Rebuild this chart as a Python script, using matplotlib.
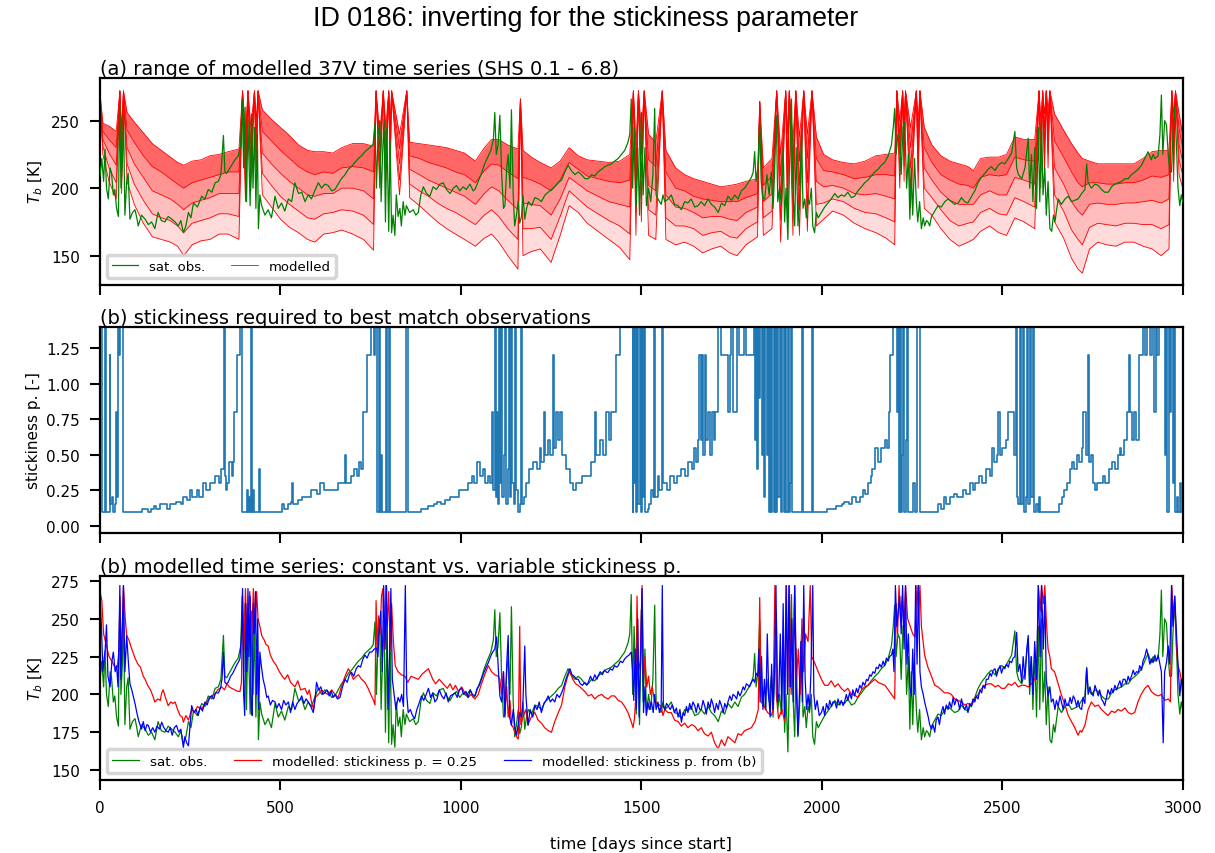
"""
Stickiness inversion figure for ID 0186: modelled 37V range, inverted
stickiness, and constant vs variable stickiness runs.
Values read off the reference figure by eye.
"""

import numpy as np
import matplotlib
matplotlib.use("Agg")
import matplotlib.pyplot as plt

# ─── Panel (a): modelled family (grid shared by all curves) ──────────────────
fam_days = [0, 8, 25, 45, 55, 60, 65, 75, 95, 120,
            145, 170, 195, 215, 232, 255, 280, 305, 330, 355,
            385, 395, 403, 410, 418, 428, 433, 438, 450, 475,
            500, 525, 550, 575, 595, 620, 645, 670, 700, 730,
            758, 765, 775, 785, 792, 800, 804, 808, 830, 850,
            858, 885, 910, 935, 960, 985, 1010, 1040, 1065, 1085,
            1105, 1130, 1158, 1165, 1172, 1195, 1220, 1250, 1275, 1300,
            1325, 1350, 1380, 1410, 1440, 1468, 1478, 1485, 1492, 1500,
            1508, 1520, 1540, 1558, 1568, 1595, 1620, 1645, 1670, 1695,
            1720, 1745, 1765, 1790, 1822, 1828, 1838, 1862, 1875, 1886,
            1900, 1905, 1910, 1920, 1928, 1938, 1950, 1960, 1973, 1985,
            2005, 2030, 2060, 2090, 2120, 2150, 2178, 2202, 2208, 2216,
            2224, 2228, 2232, 2246, 2262, 2267, 2272, 2284, 2305, 2330,
            2355, 2380, 2405, 2420, 2440, 2465, 2490, 2512, 2535, 2560,
            2590, 2602, 2607, 2612, 2617, 2622, 2627, 2632, 2645, 2670,
            2692, 2710, 2722, 2742, 2765, 2790, 2815, 2840, 2865, 2890,
            2915, 2940, 2962, 2970, 2975, 2980, 2990, 3000]

fam_top = [270, 248, 246, 242, 272, 244, 272, 256, 249, 241,
           233, 228, 223, 219, 217, 220, 221, 224, 225, 227,
           229, 272, 240, 272, 245, 272, 250, 272, 258, 251,
           245, 239, 232, 228, 227, 227, 226, 230, 233, 233,
           231, 272, 240, 272, 245, 272, 248, 272, 240, 272,
           234, 233, 232, 231, 230, 228, 226, 220, 230, 236,
           236, 232, 229, 266, 228, 223, 219, 215, 220, 230,
           224, 221, 220, 219, 220, 225, 272, 232, 272, 242,
           272, 240, 234, 272, 228, 215, 210, 207, 205, 203,
           201, 202, 203, 205, 207, 264, 215, 222, 272, 225,
           272, 240, 272, 235, 272, 238, 272, 240, 272, 238,
           225, 221, 219, 218, 220, 224, 225, 226, 272, 250,
           272, 250, 272, 245, 272, 250, 272, 245, 232, 224,
           220, 218, 216, 213, 222, 223, 223, 225, 238, 236,
           236, 272, 250, 272, 255, 272, 258, 272, 255, 243,
           233, 226, 222, 220, 218, 218, 218, 218, 218, 222,
           227, 228, 228, 272, 255, 272, 255, 240]

fam_q1 = [268, 242, 236, 230, 272, 232, 272, 243, 234, 224,
          216, 212, 207, 203, 200, 204, 206, 208, 210, 212,
          212, 272, 228, 272, 233, 272, 239, 272, 242, 235,
          228, 222, 216, 212, 210, 212, 211, 215, 216, 215,
          212, 272, 230, 272, 235, 272, 237, 272, 229, 272,
          224, 222, 219, 217, 215, 212, 210, 204, 213, 218,
          217, 212, 207, 266, 208, 206, 203, 198, 206, 219,
          214, 209, 207, 205, 204, 206, 272, 215, 272, 225,
          272, 221, 216, 272, 212, 200, 198, 194, 192, 191,
          190, 190, 190, 193, 196, 264, 202, 209, 272, 209,
          272, 222, 272, 218, 272, 220, 272, 222, 272, 222,
          213, 212, 210, 207, 208, 210, 210, 209, 272, 238,
          272, 239, 272, 230, 272, 238, 272, 230, 219, 210,
          206, 203, 202, 200, 208, 210, 209, 210, 223, 221,
          220, 272, 238, 272, 244, 272, 247, 272, 235, 223,
          212, 204, 201, 204, 204, 203, 203, 204, 204, 206,
          209, 208, 210, 272, 242, 272, 244, 230]

fam_mid = [266, 236, 226, 217, 272, 220, 272, 230, 218, 208,
           198, 195, 192, 188, 184, 189, 191, 193, 196, 196,
           196, 272, 215, 272, 222, 272, 228, 272, 226, 218,
           211, 205, 200, 195, 194, 196, 196, 200, 200, 198,
           192, 272, 220, 272, 225, 272, 226, 272, 218, 272,
           214, 210, 206, 203, 200, 197, 194, 188, 196, 201,
           198, 191, 184, 266, 189, 188, 187, 180, 192, 208,
           203, 198, 194, 190, 188, 186, 272, 198, 272, 208,
           272, 202, 198, 272, 195, 186, 185, 182, 178, 179,
           179, 177, 176, 182, 186, 264, 190, 196, 272, 192,
           272, 205, 272, 200, 272, 202, 272, 204, 272, 205,
           201, 202, 200, 196, 195, 196, 194, 192, 272, 225,
           272, 228, 272, 215, 272, 225, 272, 215, 206, 197,
           191, 188, 188, 188, 195, 198, 195, 195, 208, 206,
           203, 272, 225, 272, 232, 272, 236, 272, 215, 203,
           190, 183, 180, 188, 189, 188, 188, 189, 189, 190,
           191, 189, 192, 272, 230, 272, 232, 220]

fam_q3 = [264, 231, 215, 204, 272, 208, 272, 218, 203, 191,
          181, 178, 176, 172, 167, 174, 176, 178, 181, 181,
          179, 272, 202, 272, 210, 272, 216, 272, 211, 202,
          194, 188, 183, 178, 177, 181, 182, 184, 183, 180,
          173, 272, 210, 272, 215, 272, 216, 272, 206, 272,
          203, 198, 194, 189, 185, 182, 178, 173, 180, 184,
          179, 170, 162, 266, 170, 170, 171, 162, 179, 198,
          192, 186, 181, 176, 172, 166, 272, 182, 272, 192,
          272, 184, 180, 272, 178, 172, 172, 170, 165, 167,
          168, 164, 163, 170, 175, 264, 178, 183, 272, 176,
          272, 188, 272, 182, 272, 184, 272, 186, 272, 188,
          189, 192, 190, 185, 182, 181, 178, 175, 272, 212,
          272, 216, 272, 200, 272, 212, 272, 200, 193, 184,
          176, 172, 174, 175, 182, 185, 181, 180, 193, 190,
          186, 272, 212, 272, 221, 272, 226, 272, 195, 183,
          169, 162, 158, 171, 174, 173, 172, 174, 174, 173,
          173, 170, 173, 272, 218, 272, 221, 210]

fam_bottom = [262, 225, 205, 192, 272, 196, 272, 205, 188, 174,
              164, 162, 160, 157, 150, 158, 161, 162, 166, 166,
              162, 272, 190, 272, 198, 272, 205, 272, 195, 186,
              177, 171, 167, 162, 160, 166, 167, 169, 166, 162,
              154, 272, 200, 272, 205, 272, 205, 272, 195, 272,
              193, 187, 181, 175, 170, 166, 162, 157, 163, 166,
              160, 150, 140, 266, 150, 153, 155, 145, 165, 187,
              182, 174, 168, 162, 156, 147, 272, 165, 272, 175,
              272, 165, 162, 272, 162, 158, 160, 157, 152, 155,
              157, 152, 150, 158, 164, 264, 165, 170, 272, 160,
              272, 170, 272, 165, 272, 165, 272, 168, 272, 172,
              177, 183, 180, 174, 170, 167, 163, 158, 272, 200,
              272, 205, 272, 185, 272, 200, 272, 185, 180, 170,
              162, 157, 160, 162, 168, 172, 167, 165, 178, 175,
              170, 272, 200, 272, 210, 272, 215, 272, 175, 163,
              148, 140, 137, 155, 160, 158, 157, 160, 160, 157,
              155, 150, 155, 272, 205, 272, 210, 200]

# ─── Satellite observations (day, Tb) ───────────────────────────────────────
obs_pts = [
    (0, 209), (5, 222), (10, 205), (14, 229), (18, 200), (23, 192), (28, 215), (32, 211),
    (37, 195), (41, 199), (46, 185), (51, 179), (53, 230), (55, 262), (58, 200), (62, 220),
    (65, 255), (69, 180), (74, 205), (78, 211), (83, 177), (90, 182), (97, 184), (102, 178),
    (106, 172), (115, 180), (125, 177), (134, 173), (143, 175), (152, 170), (161, 182),
    (170, 176), (180, 175), (189, 179), (199, 177), (208, 175), (217, 172), (224, 176),
    (231, 167), (238, 172), (245, 182), (252, 178), (259, 189), (270, 186), (282, 194),
    (291, 192), (300, 199), (310, 197), (319, 204), (328, 205), (335, 210), (342, 239),
    (346, 212), (351, 211), (358, 214), (365, 217), (374, 221), (383, 224), (390, 232),
    (394, 265), (398, 215), (402, 260), (406, 190), (410, 250), (416, 187), (420, 255),
    (424, 200), (428, 245), (432, 185), (436, 240), (439, 170), (443, 195), (448, 187),
    (457, 180), (466, 184), (475, 178), (485, 194), (494, 185), (503, 189), (512, 183),
    (522, 192), (531, 190), (540, 204), (550, 196), (559, 197), (568, 190), (577, 195),
    (586, 192), (595, 198), (605, 204), (614, 200), (623, 203), (632, 202), (642, 198),
    (651, 199), (660, 203), (669, 207), (679, 210), (688, 214), (697, 216), (706, 219),
    (716, 222), (725, 224), (734, 227), (743, 229), (752, 231), (757, 233), (762, 248),
    (766, 200), (770, 235), (775, 250), (779, 190), (783, 225), (787, 251), (791, 175),
    (795, 245), (800, 168), (804, 235), (808, 167), (812, 180), (817, 165), (821, 195),
    (826, 179), (831, 185), (835, 172), (840, 190), (845, 180), (849, 187), (858, 182),
    (868, 184), (875, 180), (882, 182), (889, 195), (896, 201), (905, 196), (914, 194),
    (923, 201), (932, 199), (942, 203), (951, 204), (960, 199), (970, 196), (979, 200),
    (988, 202), (997, 198), (1006, 201), (1015, 199), (1025, 203), (1034, 198), (1039, 199),
    (1048, 205), (1057, 211), (1066, 218), (1076, 224), (1083, 228), (1090, 236), (1094, 256),
    (1098, 225), (1103, 232), (1108, 254), (1113, 210), (1118, 185), (1122, 187), (1127, 215),
    (1131, 225), (1136, 200), (1140, 258), (1145, 195), (1149, 172), (1154, 180), (1159, 190),
    (1163, 174), (1168, 179), (1172, 195), (1177, 177), (1182, 185), (1187, 190), (1196, 187),
    (1205, 193), (1214, 192), (1223, 190), (1233, 195), (1242, 197), (1251, 199), (1260, 201),
    (1270, 204), (1279, 206), (1288, 212), (1297, 217), (1306, 213), (1316, 210), (1325, 212),
    (1334, 210), (1344, 207), (1353, 207), (1362, 210), (1371, 209), (1380, 212), (1390, 214),
    (1399, 216), (1408, 217), (1417, 218), (1426, 220), (1436, 222), (1445, 225), (1454, 228),
    (1463, 234), (1468, 240), (1472, 266), (1476, 200), (1480, 245), (1486, 187), (1490, 230),
    (1495, 180), (1500, 256), (1505, 195), (1510, 230), (1514, 187), (1520, 200), (1526, 190),
    (1532, 210), (1537, 259), (1541, 195), (1546, 192), (1555, 188), (1560, 195), (1565, 190),
    (1574, 192), (1583, 195), (1592, 188), (1602, 187), (1611, 184), (1620, 190), (1629, 189),
    (1638, 192), (1648, 186), (1657, 187), (1666, 190), (1675, 187), (1685, 192), (1694, 188),
    (1703, 186), (1713, 182), (1722, 189), (1731, 187), (1740, 194), (1750, 191), (1759, 195),
    (1768, 192), (1777, 198), (1786, 200), (1796, 204), (1805, 208), (1810, 212), (1814, 227),
    (1818, 205), (1823, 215), (1828, 249), (1832, 205), (1837, 192), (1842, 192), (1848, 210),
    (1854, 195), (1860, 212), (1865, 185), (1869, 210), (1874, 254), (1878, 190), (1883, 200),
    (1888, 187), (1893, 230), (1897, 175), (1901, 200), (1906, 162), (1911, 220), (1916, 266),
    (1920, 200), (1925, 172), (1929, 230), (1934, 172), (1939, 195), (1944, 240), (1948, 185),
    (1953, 192), (1957, 178), (1962, 192), (1966, 188), (1971, 200), (1975, 172), (1980, 167),
    (1985, 182), (1990, 178), (1999, 182), (2008, 186), (2017, 189), (2026, 192), (2036, 196),
    (2045, 193), (2054, 195), (2063, 194), (2072, 197), (2082, 193), (2091, 194), (2100, 198),
    (2110, 201), (2119, 204), (2128, 206), (2137, 209), (2147, 212), (2156, 214), (2165, 217),
    (2174, 219), (2184, 224), (2193, 232), (2198, 245), (2202, 259), (2206, 225), (2211, 240),
    (2216, 237), (2220, 210), (2225, 245), (2230, 249), (2235, 200), (2240, 225), (2244, 177),
    (2248, 215), (2252, 180), (2257, 222), (2262, 190), (2266, 175), (2271, 190), (2276, 170),
    (2281, 178), (2285, 172), (2290, 176), (2294, 175), (2299, 172), (2304, 179), (2313, 183),
    (2322, 187), (2331, 186), (2341, 190), (2350, 192), (2359, 190), (2368, 188), (2378, 189),
    (2387, 193), (2396, 190), (2405, 189), (2415, 194), (2424, 198), (2433, 204), (2442, 208),
    (2452, 211), (2461, 214), (2470, 216), (2480, 213), (2489, 217), (2498, 219), (2507, 218),
    (2517, 222), (2526, 226), (2535, 242), (2540, 215), (2545, 210), (2554, 207), (2563, 215),
    (2572, 237), (2576, 200), (2581, 225), (2585, 190), (2590, 230), (2595, 185), (2600, 245),
    (2604, 190), (2609, 250), (2613, 195), (2618, 215), (2622, 180), (2627, 205), (2632, 170),
    (2637, 168), (2642, 180), (2646, 175), (2655, 192), (2664, 188), (2674, 192), (2683, 194),
    (2692, 190), (2701, 191), (2710, 192), (2720, 196), (2729, 199), (2734, 218), (2738, 204),
    (2747, 200), (2757, 203), (2766, 202), (2775, 199), (2784, 197), (2794, 197), (2803, 201),
    (2812, 203), (2821, 204), (2831, 205), (2840, 207), (2849, 207), (2858, 210), (2868, 212),
    (2877, 214), (2886, 217), (2895, 222), (2904, 227), (2913, 221), (2918, 225), (2923, 222),
    (2932, 224), (2937, 240), (2941, 269), (2945, 225), (2950, 250), (2955, 247), (2960, 225),
    (2964, 212), (2969, 212), (2973, 240), (2978, 261), (2983, 230), (2987, 200), (2992, 187),
    (2996, 195), (3000, 190)]

# ─── Panel (b): stickiness p. required (day, p); clipped values at 6.8 ─────
stick_pts = [
    (0, 6.8), (3, 6.8), (5, 0.1), (12, 0.1), (14, 6.8), (16, 0.1), (25, 0.1), (27, 1.2),
    (29, 0.15), (33, 0.2), (36, 0.1), (42, 0.15), (44, 0.8), (46, 0.2), (49, 1.2), (51, 6.8),
    (53, 1.2), (55, 6.8), (60, 6.8), (63, 0.1), (115, 0.1), (117, 0.12), (130, 0.12),
    (132, 0.1), (140, 0.12), (150, 0.14), (155, 0.12), (165, 0.15), (181, 0.15), (185, 0.12),
    (195, 0.15), (210, 0.17), (225, 0.15), (230, 0.2), (240, 0.18), (250, 0.25), (255, 0.2),
    (269, 0.25), (275, 0.2), (285, 0.3), (295, 0.25), (305, 0.3), (313, 0.3), (320, 0.35),
    (330, 0.3), (335, 0.4), (341, 0.4), (343, 6.8), (345, 0.35), (350, 0.25), (352, 0.3),
    (358, 0.45), (365, 0.35), (368, 0.45), (372, 0.8), (378, 0.8), (380, 1.2), (385, 1.2),
    (387, 6.8), (391, 6.8), (393, 0.1), (405, 0.1), (407, 0.25), (409, 0.1), (414, 0.2),
    (416, 0.1), (418, 6.8), (420, 0.1), (423, 0.25), (426, 0.1), (438, 0.1), (440, 0.4),
    (442, 0.1), (500, 0.1), (505, 0.15), (510, 0.12), (520, 0.15), (530, 0.17), (533, 0.3),
    (536, 0.15), (550, 0.18), (560, 0.2), (575, 0.2), (585, 0.25), (600, 0.22), (610, 0.3),
    (620, 0.25), (640, 0.25), (660, 0.3), (676, 0.3), (680, 0.5), (683, 0.3), (695, 0.35),
    (705, 0.4), (712, 0.35), (718, 0.45), (724, 0.4), (728, 0.8), (738, 0.8), (740, 1.2),
    (748, 1.2), (750, 6.8), (757, 6.8), (759, 1.2), (762, 6.8), (766, 6.8), (768, 0.1),
    (772, 0.3), (774, 6.8), (776, 0.1), (780, 0.5), (782, 0.1), (790, 0.1), (792, 6.8),
    (794, 0.1), (800, 0.1), (802, 6.8), (804, 0.1), (846, 0.1), (848, 6.8), (851, 6.8),
    (853, 0.1), (885, 0.1), (890, 0.12), (905, 0.12), (910, 0.14), (925, 0.15), (935, 0.17),
    (945, 0.15), (955, 0.18), (970, 0.2), (985, 0.2), (995, 0.25), (1010, 0.25), (1020, 0.3),
    (1030, 0.35), (1035, 0.3), (1045, 0.45), (1052, 0.35), (1060, 0.4), (1068, 0.3),
    (1075, 0.35), (1082, 0.3), (1086, 0.8), (1090, 0.25), (1094, 6.8), (1097, 0.2),
    (1100, 0.8), (1103, 0.15), (1106, 6.8), (1109, 0.3), (1112, 6.8), (1115, 0.2), (1120, 0.5),
    (1123, 6.8), (1126, 0.15), (1130, 0.4), (1133, 6.8), (1136, 0.2), (1140, 6.8), (1143, 0.3),
    (1147, 0.15), (1150, 6.8), (1153, 0.25), (1158, 0.1), (1163, 0.15), (1166, 6.8),
    (1169, 0.15), (1174, 0.2), (1181, 0.3), (1190, 0.4), (1200, 0.45), (1210, 0.4),
    (1218, 0.55), (1222, 0.45), (1231, 0.8), (1234, 0.5), (1242, 0.6), (1248, 0.5),
    (1256, 1.2), (1259, 0.55), (1264, 0.8), (1268, 0.6), (1275, 0.8), (1280, 0.5), (1290, 0.4),
    (1302, 0.3), (1310, 0.25), (1320, 0.3), (1335, 0.35), (1350, 0.35), (1360, 0.45),
    (1368, 0.45), (1372, 0.8), (1375, 0.5), (1385, 0.6), (1395, 0.5), (1401, 0.8), (1410, 0.6),
    (1416, 0.8), (1425, 0.8), (1430, 1.2), (1440, 1.2), (1442, 6.8), (1475, 6.8), (1476, 0.1),
    (1478, 6.8), (1480, 0.3), (1483, 6.8), (1486, 0.1), (1489, 6.8), (1492, 0.15), (1495, 6.8),
    (1498, 0.1), (1502, 6.8), (1505, 0.2), (1508, 6.8), (1511, 0.1), (1518, 0.12),
    (1522, 0.15), (1526, 0.25), (1532, 0.2), (1536, 6.8), (1539, 0.2), (1545, 0.35),
    (1550, 0.25), (1556, 0.3), (1558, 6.8), (1561, 0.3), (1570, 0.25), (1580, 0.35),
    (1590, 0.3), (1600, 0.35), (1610, 0.4), (1620, 0.35), (1630, 0.45), (1640, 0.4),
    (1647, 0.55), (1652, 0.45), (1657, 0.6), (1660, 1.2), (1664, 0.6), (1668, 1.2),
    (1672, 0.5), (1676, 1.2), (1680, 0.6), (1685, 0.8), (1690, 0.5), (1695, 0.8), (1700, 0.6),
    (1705, 0.8), (1710, 0.8), (1713, 6.8), (1717, 6.8), (1720, 1.2), (1735, 1.2), (1740, 0.8),
    (1745, 1.2), (1749, 6.8), (1753, 0.8), (1762, 0.8), (1765, 6.8), (1770, 1.2), (1780, 1.2),
    (1785, 6.8), (1790, 1.2), (1808, 1.2), (1811, 6.8), (1814, 0.6), (1817, 6.8), (1820, 0.4),
    (1823, 6.8), (1827, 0.9), (1830, 6.8), (1834, 0.5), (1837, 6.8), (1840, 0.2), (1843, 6.8),
    (1847, 0.5), (1850, 6.8), (1854, 0.1), (1857, 6.8), (1860, 0.1), (1863, 6.8), (1867, 0.1),
    (1870, 6.8), (1874, 0.1), (1877, 6.8), (1880, 0.2), (1884, 6.8), (1887, 0.1), (1891, 6.8),
    (1894, 0.1), (1898, 6.8), (1901, 0.1), (1905, 6.8), (1908, 0.1), (1912, 0.3), (1915, 6.8),
    (1918, 0.1), (1944, 0.1), (1946, 6.8), (1948, 0.1), (1972, 0.1), (1974, 6.8), (1976, 0.1),
    (2012, 0.1), (2015, 0.12), (2030, 0.12), (2040, 0.14), (2055, 0.15), (2062, 0.17),
    (2075, 0.15), (2085, 0.2), (2095, 0.17), (2105, 0.2), (2115, 0.25), (2120, 0.22),
    (2128, 0.3), (2135, 0.35), (2140, 0.4), (2148, 0.55), (2155, 0.45), (2165, 0.55),
    (2175, 0.6), (2182, 0.55), (2186, 0.8), (2190, 1.2), (2195, 1.2), (2198, 6.8), (2205, 6.8),
    (2208, 0.8), (2211, 6.8), (2214, 0.1), (2217, 6.8), (2220, 0.1), (2223, 0.5), (2226, 6.8),
    (2229, 0.1), (2232, 0.6), (2235, 6.8), (2238, 0.1), (2250, 0.1), (2254, 0.3), (2258, 0.1),
    (2264, 6.8), (2268, 6.8), (2271, 0.1), (2318, 0.1), (2322, 0.15), (2330, 0.12),
    (2338, 0.2), (2345, 0.15), (2355, 0.2), (2365, 0.22), (2375, 0.2), (2390, 0.25),
    (2400, 0.22), (2410, 0.3), (2418, 0.25), (2425, 0.3), (2435, 0.35), (2445, 0.3),
    (2455, 0.4), (2465, 0.35), (2473, 0.55), (2478, 0.45), (2485, 0.5), (2489, 0.8),
    (2493, 0.5), (2500, 0.55), (2510, 0.6), (2515, 0.8), (2530, 0.8), (2533, 0.5), (2537, 6.8),
    (2540, 0.2), (2545, 0.15), (2550, 6.8), (2553, 0.15), (2558, 6.8), (2561, 0.1), (2565, 0.2),
    (2568, 6.8), (2571, 0.15), (2576, 6.8), (2580, 0.2), (2584, 6.8), (2588, 0.1), (2593, 0.15),
    (2598, 0.1), (2602, 0.2), (2606, 0.1), (2650, 0.1), (2658, 0.15), (2665, 0.2), (2672, 0.25),
    (2680, 0.3), (2688, 0.4), (2694, 0.45), (2700, 0.4), (2706, 0.5), (2712, 0.45),
    (2720, 0.55), (2724, 0.8), (2730, 0.8), (2733, 0.5), (2738, 1.2), (2741, 0.45),
    (2746, 0.5), (2752, 0.3), (2756, 0.25), (2762, 0.3), (2770, 0.3), (2778, 0.35),
    (2785, 0.3), (2795, 0.4), (2805, 0.45), (2812, 0.4), (2820, 0.5), (2826, 0.55), (2830, 0.5),
    (2837, 0.6), (2845, 0.8), (2850, 1.2), (2853, 0.8), (2860, 0.6), (2866, 0.8), (2872, 0.6),
    (2878, 1.2), (2885, 1.2), (2890, 6.8), (2895, 1.2), (2900, 6.8), (2906, 6.8), (2910, 1.2),
    (2916, 6.8), (2920, 0.8), (2925, 6.8), (2930, 1.2), (2935, 6.8), (2945, 6.8), (2950, 0.5),
    (2953, 6.8), (2957, 0.1), (2961, 6.8), (2965, 0.8), (2968, 6.8), (2972, 0.3), (2976, 6.8),
    (2980, 0.1), (2984, 0.2), (2988, 0.1), (2992, 0.3), (2996, 0.1), (3000, 0.2)]

# ─── Panel (c): constant stickiness p. = 0.25 (day, Tb) ─────────────────────
const_pts = [
    (0, 268), (5, 262), (10, 240), (18, 232), (25, 225), (33, 222), (41, 218), (48, 218),
    (53, 230), (55, 265), (58, 225), (62, 245), (65, 272), (70, 250), (74, 239), (80, 236),
    (88, 230), (97, 224), (105, 220), (112, 218), (120, 212), (125, 210), (132, 206),
    (140, 203), (148, 198), (152, 195), (160, 197), (167, 196), (171, 201), (175, 203),
    (180, 199), (189, 192.5), (196, 195), (202, 194), (208, 195), (215, 190), (222, 186),
    (228, 185), (231, 181.6), (238, 186), (245, 183), (254, 190), (262, 188), (270, 192),
    (282, 190), (290, 194), (300, 196), (309, 199), (318, 200), (326, 203), (337, 205),
    (345, 203), (352, 207), (358, 205), (365, 204), (374, 203), (382, 202), (388, 202),
    (392, 208), (395, 265), (399, 230), (403, 270), (407, 240), (411, 255), (415, 268),
    (420, 235), (425, 270), (430, 245), (434, 268), (438, 250), (443, 245), (448, 239),
    (455, 236), (460, 233), (466, 232), (472, 226), (480, 222), (489, 219), (497, 215),
    (505, 212), (512, 210), (520, 213), (528, 208), (540, 205), (548, 209), (556, 203),
    (568, 204), (575, 200), (580, 203), (586, 195), (592, 190), (596, 198), (605, 200),
    (614, 203), (623, 201), (632, 200), (642, 203), (651, 200), (660, 198), (665, 202),
    (670, 206), (679, 212), (688, 217), (695, 214), (702, 210), (710, 212), (716, 213),
    (725, 210), (734, 208), (743, 204), (752, 199), (758, 196), (762, 193), (765, 262),
    (768, 230), (772, 252), (776, 240), (780, 265), (784, 270), (788, 230), (792, 272),
    (796, 245), (800, 268), (804, 230), (808, 260), (813, 235), (818, 219), (826, 215),
    (835, 213), (845, 212), (853, 208), (862, 212), (872, 211), (882, 210), (891, 213),
    (900, 215), (910, 217), (915, 214), (922, 210), (930, 207), (940, 210), (947, 208),
    (955, 206), (962, 204), (970, 207), (978, 203), (985, 206), (993, 202), (1002, 205),
    (1011, 201), (1020, 198), (1028, 200), (1039, 197), (1048, 200), (1057, 207), (1066, 213),
    (1076, 219), (1085, 215), (1094, 213), (1103, 212), (1108, 210), (1113, 200), (1118, 215),
    (1122, 188), (1127, 205), (1131, 185), (1136, 196), (1140, 180), (1145, 178), (1150, 175),
    (1154, 172), (1159, 170.5), (1163, 245), (1166, 180), (1172, 185), (1180, 190),
    (1186, 180), (1195, 185), (1205, 188), (1214, 183), (1223, 181), (1232, 178), (1242, 176),
    (1251, 175), (1260, 182), (1270, 188), (1279, 193), (1288, 205), (1296, 212), (1302, 215),
    (1310, 210), (1318, 207), (1325, 206), (1334, 204), (1343, 202), (1353, 199), (1362, 200),
    (1371, 197), (1380, 199), (1390, 200), (1399, 198), (1408, 197), (1417, 199), (1426, 199),
    (1436, 196), (1445, 195), (1454, 192), (1463, 188), (1472, 182), (1477, 178), (1481, 184),
    (1485, 200), (1488, 265), (1492, 215), (1497, 222), (1502, 272), (1506, 210), (1510, 225),
    (1515, 205), (1520, 212), (1525, 200), (1530, 205), (1537, 195), (1545, 194), (1555, 192),
    (1560, 186), (1565, 190), (1574, 188), (1583, 188), (1592, 183), (1602, 182), (1611, 179),
    (1620, 181), (1629, 178), (1639, 180), (1648, 179), (1657, 176), (1666, 178), (1675, 174),
    (1685, 172.5), (1694, 175), (1703, 168), (1713, 164), (1722, 170), (1731, 166),
    (1740, 172), (1750, 170), (1759, 168), (1768, 174), (1777, 173), (1786, 176), (1796, 177),
    (1805, 178), (1815, 182), (1824, 190), (1828, 264), (1832, 195), (1840, 192), (1850, 188),
    (1860, 186), (1865, 190), (1870, 272), (1874, 200), (1880, 184), (1890, 190), (1897, 182),
    (1902, 272), (1906, 205), (1910, 272), (1915, 200), (1920, 225), (1925, 272), (1930, 210),
    (1935, 230), (1940, 200), (1945, 250), (1950, 215), (1955, 240), (1962, 235), (1968, 272),
    (1972, 225), (1980, 221), (1990, 215), (1999, 210), (2008, 206), (2017, 206), (2026, 209),
    (2036, 205), (2045, 207), (2054, 204), (2063, 202), (2072, 204), (2082, 200),
    (2091, 199.5), (2100, 198), (2110, 203), (2119, 205), (2128, 206), (2137, 208),
    (2147, 210), (2156, 208), (2165, 207), (2175, 206), (2184, 203), (2193, 200), (2202, 197),
    (2206, 260), (2210, 240), (2214, 272), (2218, 250), (2223, 265), (2228, 245), (2232, 272),
    (2238, 250), (2245, 245), (2252, 240), (2258, 238), (2264, 272), (2268, 250), (2272, 272),
    (2276, 245), (2285, 226), (2294, 218), (2304, 212), (2313, 206), (2322, 205), (2331, 203),
    (2340, 201), (2350, 201), (2359, 200), (2368, 197), (2378, 196), (2387, 195), (2396, 193),
    (2405, 194), (2415, 192.6), (2424, 197), (2433, 200), (2443, 204), (2452, 206),
    (2461, 207), (2470, 207), (2480, 205), (2489, 206), (2498, 204), (2507, 204), (2517, 207),
    (2526, 206), (2535, 208), (2544, 205), (2554, 206), (2563, 206), (2572, 205), (2581, 207),
    (2590, 210), (2596, 215), (2600, 272), (2605, 255), (2609, 272), (2614, 260), (2618, 272),
    (2623, 245), (2627, 230), (2632, 225), (2636, 217), (2645, 215), (2655, 207),
    (2664, 199.5), (2674, 193), (2683, 186), (2692, 182), (2701, 178), (2710, 173),
    (2716, 176), (2720, 175), (2729, 179.5), (2738, 190), (2747, 195), (2757, 192),
    (2766, 193), (2775, 190), (2784, 188), (2793, 186), (2803, 189), (2812, 188), (2821, 190),
    (2830, 189), (2840, 191), (2849, 188), (2858, 187), (2867, 188), (2876, 195), (2885, 200),
    (2895, 204), (2904, 206), (2913, 202), (2922, 200), (2932, 199), (2941, 200), (2950, 196),
    (2960, 197), (2966, 195), (2970, 272), (2974, 250), (2978, 265), (2983, 230), (2987, 219),
    (2992, 215), (2996, 210), (3000, 200)]

# ─── Panel (c): stickiness p. from (b) (day, Tb) ────────────────────────────
var_pts = [
    (0, 265), (4, 245), (8, 215), (12, 225), (14, 228), (18, 246), (22, 212), (28, 205),
    (33, 222), (37, 228), (42, 215), (46, 219), (50, 205), (53, 240), (55, 272), (58, 210),
    (62, 245), (65, 272), (69, 215), (74, 239), (79, 220), (83, 207), (88, 203), (92, 199),
    (97, 194), (102, 188), (108, 182), (115, 177), (120, 182), (125, 176), (130, 180),
    (134, 179.5), (140, 175), (146, 178), (152, 175), (158, 179), (165, 177), (171, 181.6),
    (177, 178), (183, 176), (189, 175), (195, 178), (200, 173), (206, 178), (212, 179.5),
    (218, 175), (224, 177), (228, 170), (231, 165), (235, 172), (240, 168), (245, 166),
    (249, 178), (254, 192.6), (260, 188), (266, 190), (272, 186), (278, 192), (284, 189),
    (291, 195), (297, 193), (303, 198), (309, 199), (315, 197), (320, 201), (328, 201),
    (334, 204), (338, 210), (342, 228), (346, 208), (350, 207), (355, 208), (362, 212),
    (368, 214), (374, 217), (380, 220), (385, 222), (388, 224), (392, 240), (395, 270),
    (398, 200), (401, 186), (404, 260), (407, 215), (410, 270), (413, 225), (416, 265),
    (419, 190), (422, 186), (425, 260), (428, 240), (431, 268), (434, 200), (437, 250),
    (440, 190), (443, 228), (447, 219), (452, 210), (457, 205), (462, 198), (466, 199),
    (472, 193), (478, 196), (485, 195), (490, 191), (496, 194), (503, 190), (509, 196),
    (515, 193), (522, 195), (528, 188), (534, 195), (540, 190), (546, 194), (553, 196),
    (559, 199), (565, 194), (571, 197), (577, 195), (584, 192), (591, 188), (596, 197),
    (600, 208), (606, 203), (612, 205), (617, 200), (623, 201), (629, 203), (635, 199),
    (641, 202), (646, 198), (651, 200), (658, 197), (665, 198), (672, 205), (679, 210),
    (685, 208), (691, 213), (697, 214.6), (703, 212), (710, 217), (716, 219), (722, 218),
    (728, 223), (734, 226), (740, 224), (747, 228), (753, 228), (760, 230), (766, 230.7),
    (770, 225), (774, 245), (778, 255), (782, 215), (786, 272), (790, 230), (794, 272),
    (798, 190), (802, 225), (806, 270), (810, 210), (815, 200), (820, 190), (826, 198),
    (831, 195), (836, 200), (841, 192), (846, 272), (850, 200), (854, 188), (860, 190),
    (866, 186), (872, 184), (878, 190), (884, 194), (891, 199), (897, 196), (904, 200),
    (910, 204), (916, 198), (922, 201), (928, 195), (934, 197), (940, 203), (947, 199),
    (953, 197), (959, 201), (965, 195), (971, 199), (978, 200), (984, 201), (990, 198),
    (996, 203), (1002, 204), (1008, 200), (1014, 202), (1020, 198), (1026, 203), (1032, 200),
    (1039, 199), (1045, 204), (1051, 206), (1057, 210), (1063, 214), (1070, 218), (1076, 221),
    (1082, 225), (1088, 228), (1094, 230), (1099, 238), (1103, 220), (1108, 199), (1113, 195),
    (1118, 215), (1122, 185), (1127, 220), (1131, 239), (1135, 185), (1140, 179.5),
    (1145, 190), (1150, 178), (1154, 173), (1159, 180), (1163, 188), (1168, 185), (1172, 195),
    (1177, 232), (1180, 200), (1186, 179.5), (1192, 190), (1199, 185), (1205, 192.6),
    (1211, 190), (1217, 195), (1223, 188), (1230, 194), (1236, 196), (1242, 199), (1248, 195),
    (1254, 197), (1260, 195), (1266, 200), (1273, 198), (1279, 201), (1285, 205), (1291, 210),
    (1297, 214), (1302, 217), (1308, 213), (1314, 212), (1320, 210), (1325, 210), (1331, 207),
    (1337, 206), (1343, 208), (1349, 206), (1353, 208), (1359, 212), (1365, 209), (1371, 213),
    (1377, 210), (1380, 212), (1386, 215), (1392, 213), (1398, 216), (1404, 214.6),
    (1408, 214.6), (1414, 217), (1420, 216), (1426, 219), (1432, 218), (1436, 219),
    (1442, 222), (1448, 221), (1454, 223.5), (1460, 225), (1466, 226), (1472, 228),
    (1476, 215), (1479, 196), (1483, 230), (1486, 190), (1490, 250), (1494, 185), (1498, 225),
    (1502, 270), (1506, 188), (1510, 205), (1514, 186), (1518, 195), (1522, 190), (1528, 195),
    (1533, 188), (1537, 200), (1541, 190), (1546, 195), (1550, 188), (1555, 192), (1558, 272),
    (1561, 192), (1565, 190), (1570, 194), (1574, 192.6), (1580, 190), (1586, 193),
    (1592, 188), (1597, 191), (1602, 185), (1607, 190), (1611, 181.6), (1616, 188),
    (1620, 186), (1625, 192), (1629, 188), (1634, 194), (1638, 190), (1643, 195),
    (1648, 192.6), (1652, 188), (1657, 194), (1662, 190), (1666, 190), (1671, 196),
    (1676, 192), (1680, 187), (1685, 195), (1690, 191), (1694, 197), (1699, 193), (1703, 188),
    (1708, 194), (1713, 190), (1717, 196), (1722, 192.6), (1727, 188), (1731, 194),
    (1736, 191), (1740, 195), (1745, 199), (1750, 196), (1754, 200), (1759, 199), (1764, 197),
    (1768, 202), (1773, 199), (1777, 201), (1782, 205), (1786, 203), (1791, 207), (1796, 206),
    (1800, 205), (1805, 208), (1810, 210), (1814, 208), (1818, 214), (1823, 212), (1826, 230),
    (1829, 195), (1833, 225), (1837, 190), (1841, 210), (1845, 190), (1849, 240), (1853, 200),
    (1857, 185), (1861, 220), (1865, 190), (1869, 215), (1873, 272), (1877, 195), (1881, 200),
    (1885, 240), (1889, 190), (1893, 260), (1897, 185), (1901, 272), (1905, 200), (1909, 272),
    (1913, 205), (1917, 250), (1921, 195), (1925, 272), (1929, 205), (1934, 173), (1938, 200),
    (1942, 235), (1946, 195), (1950, 272), (1954, 210), (1958, 190), (1962, 200), (1966, 190),
    (1970, 215), (1975, 272), (1978, 200), (1982, 190), (1987, 196), (1993, 186), (1999, 188),
    (2004, 192), (2008, 186), (2013, 194), (2018, 190), (2022, 196), (2027, 192), (2031, 195),
    (2036, 195), (2041, 191), (2045, 197), (2050, 193), (2054, 196), (2059, 192.6),
    (2063, 195), (2068, 200), (2072, 196), (2077, 201), (2082, 197), (2086, 203), (2091, 199),
    (2096, 204), (2100, 201), (2105, 206), (2110, 204), (2114, 208), (2119, 206), (2124, 210),
    (2128, 209), (2133, 213), (2137, 212), (2142, 215), (2147, 214), (2151, 218), (2156, 217),
    (2160, 220), (2165, 218), (2170, 222), (2174, 219), (2179, 224), (2184, 222), (2188, 225),
    (2193, 226), (2197, 230), (2200, 215), (2204, 272), (2208, 245), (2212, 255), (2216, 265),
    (2220, 240), (2224, 272), (2228, 230), (2232, 272), (2236, 220), (2240, 240), (2244, 205),
    (2248, 199), (2252, 230), (2256, 200), (2260, 272), (2264, 220), (2268, 272), (2272, 215),
    (2276, 205), (2281, 200), (2285, 195), (2290, 190), (2295, 185), (2299, 180), (2304, 177),
    (2308, 180), (2313, 175), (2317, 183), (2322, 185), (2326, 180), (2331, 188), (2336, 192),
    (2340, 187), (2345, 193), (2350, 190), (2354, 195), (2359, 191), (2364, 198), (2368, 193),
    (2373, 197), (2378, 195), (2382, 190), (2387, 197), (2392, 192), (2396, 190), (2401, 193),
    (2405, 188), (2410, 194), (2415, 192), (2419, 197), (2424, 195), (2428, 199), (2433, 197),
    (2438, 203), (2443, 201), (2447, 206), (2452, 204), (2456, 210), (2461, 210), (2466, 214),
    (2470, 212), (2475, 216), (2480, 217), (2484, 212), (2489, 216), (2494, 219), (2498, 214),
    (2503, 218), (2507, 217), (2512, 220), (2517, 218), (2521, 222), (2526, 221), (2530, 224),
    (2535, 225), (2540, 241), (2544, 215), (2549, 220), (2554, 208), (2558, 225), (2563, 210),
    (2568, 230), (2572, 239), (2576, 205), (2580, 225), (2585, 200), (2590, 235), (2595, 210),
    (2600, 272), (2605, 225), (2609, 272), (2614, 230), (2618, 265), (2622, 210), (2627, 199),
    (2632, 205), (2636, 195), (2641, 197), (2646, 190), (2650, 196), (2655, 192), (2660, 199),
    (2664, 195), (2669, 190), (2674, 197), (2678, 193), (2683, 192.6), (2688, 198),
    (2692, 194), (2697, 199), (2701, 197), (2706, 192), (2710, 196), (2715, 191), (2720, 190),
    (2724, 198), (2729, 194), (2734, 217), (2738, 200), (2743, 205), (2747, 201), (2752, 199),
    (2757, 206), (2761, 203), (2766, 199), (2770, 203), (2775, 197), (2780, 195),
    (2784, 192.6), (2789, 198), (2793, 203), (2798, 200), (2803, 204), (2807, 201),
    (2812, 206), (2817, 203), (2821, 206), (2826, 209), (2830, 205), (2835, 210), (2840, 210),
    (2844, 207), (2849, 212), (2853, 209), (2858, 212), (2863, 216), (2867, 213), (2872, 215),
    (2877, 214.6), (2881, 219), (2886, 216), (2890, 222), (2895, 225), (2900, 230),
    (2904, 226), (2909, 220), (2914, 223.5), (2918, 221), (2923, 226), (2927, 222),
    (2932, 226), (2937, 220), (2941, 215), (2946, 168), (2950, 215), (2955, 221), (2960, 232),
    (2964, 220), (2969, 272), (2973, 245), (2978, 265), (2983, 239), (2987, 220), (2992, 199),
    (2996, 210), (3000, 205)]

obs_day, obs_tb = np.array(obs_pts).T
stick_day, stick_p = np.array(stick_pts).T
const_day, const_tb = np.array(const_pts).T
var_day, var_tb = np.array(var_pts).T
family = [fam_top, fam_q1, fam_mid, fam_q3, fam_bottom]

# ─── Style ────────────────────────────────────────────────────────────────────
plt.rcParams.update({
    "font.family": "DejaVu Sans",
    "font.size": 11,
    "axes.linewidth": 1.6,
    "xtick.major.size": 7.5,
    "ytick.major.size": 7.5,
    "xtick.major.width": 1.5,
    "ytick.major.width": 1.5,
    "xtick.major.pad": 7,
    "ytick.major.pad": 7,
    "xtick.labelsize": 11,
    "ytick.labelsize": 11,
})

fig = plt.figure(figsize=(12.15, 8.54), dpi=100)
ax_a = fig.add_axes([0.0823, 0.6655, 0.8911, 0.2420])
ax_b = fig.add_axes([0.0823, 0.3744, 0.8911, 0.2419])
ax_c = fig.add_axes([0.0823, 0.0855, 0.8911, 0.2392])

fig.suptitle("ID 0186: inverting for the stickiness parameter",
             x=0.482, y=0.993, fontsize=19.3, family="Liberation Sans")

# (a) range of modelled series: shaded bands get denser towards the top
band_alpha = [0.6, 0.42, 0.26, 0.14]
for upper, lower, alpha in zip(family[:-1], family[1:], band_alpha):
    ax_a.fill_between(fam_days, lower, upper, color="red", alpha=alpha, lw=0)
for i, curve in enumerate(family):
    ax_a.plot(fam_days, curve, color="red", lw=0.6,
              label="modelled" if i == 0 else None)
ax_a.plot(obs_day, obs_tb, color="green", lw=0.9, label="sat. obs.", zorder=3)
ax_a.set_ylim(128.5, 281.6)
ax_a.set_yticks([150, 200, 250])
ax_a.set_ylabel("$T_b$ [K]", fontsize=11)
ax_a.set_title("(a) range of modelled 37V time series (SHS 0.1 - 6.8)",
               loc="left", fontsize=14, pad=3)
h, l = ax_a.get_legend_handles_labels()
leg = ax_a.legend(h[::-1], l[::-1], loc="lower left", ncol=2, fontsize=9.5,
                  framealpha=0.8, edgecolor="0.8")
leg.get_frame().set_linewidth(2.5)

# (b) stickiness required (daily steps)
ax_b.plot(stick_day, stick_p, color="#1f77b4", lw=1.2, drawstyle="steps-post")
ax_b.set_ylim(-0.053, 1.40)
ax_b.set_yticks([0.0, 0.25, 0.5, 0.75, 1.0, 1.25])
ax_b.set_yticklabels(["0.00", "0.25", "0.50", "0.75", "1.00", "1.25"])
ax_b.set_ylabel("stickiness p. [-]", fontsize=11)
ax_b.set_title("(b) stickiness required to best match observations",
               loc="left", fontsize=14, pad=3)

# (c) constant vs variable stickiness
ax_c.plot(obs_day, obs_tb, color="green", lw=0.9, label="sat. obs.")
ax_c.plot(const_day, const_tb, color="red", lw=0.9,
          label="modelled: stickiness p. = 0.25")
ax_c.plot(var_day, var_tb, color="blue", lw=0.9,
          label="modelled: stickiness p. from (b)")
ax_c.set_ylim(143.4, 278.5)
ax_c.set_yticks([150, 175, 200, 225, 250, 275])
ax_c.set_ylabel("$T_b$ [K]", fontsize=11)
ax_c.set_xlabel("time [days since start]", fontsize=11.6, labelpad=15)
ax_c.set_title("(b) modelled time series: constant vs. variable stickiness p.",
               loc="left", fontsize=14, pad=3)
leg = ax_c.legend(loc="lower left", ncol=3, fontsize=9.7,
                  framealpha=0.8, edgecolor="0.8")
leg.get_frame().set_linewidth(2.5)

for ax in (ax_a, ax_b, ax_c):
    ax.set_xlim(0, 3000)
    ax.set_xticks([0, 500, 1000, 1500, 2000, 2500, 3000])
for ax in (ax_a, ax_b):
    ax.tick_params(labelbottom=False)

fig.savefig("out.png", dpi=100, facecolor="white")
plt.close(fig)
